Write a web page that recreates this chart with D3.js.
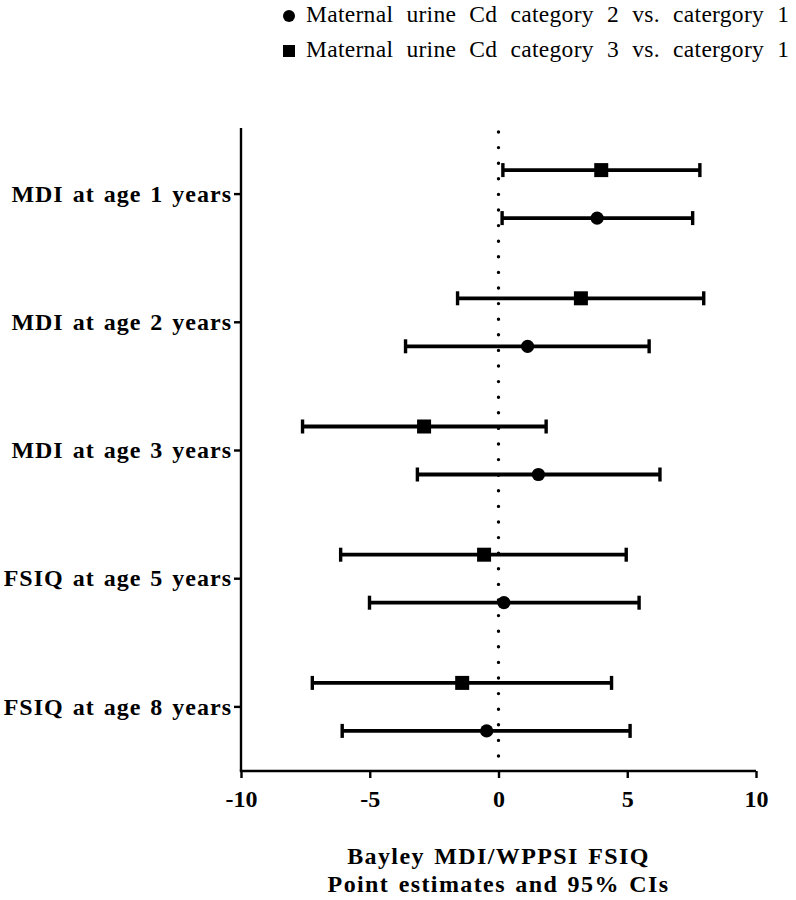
<!DOCTYPE html>
<html><head><meta charset="utf-8">
<script src="https://cdn.jsdelivr.net/npm/d3@7"></script>
<style>body{margin:0;background:#fff}svg{display:block}</style>
</head><body>
<script>
const categories = ["MDI at age 1 years","MDI at age 2 years","MDI at age 3 years","FSIQ at age 5 years","FSIQ at age 8 years"];
const seriesNames = ["Maternal urine Cd category 2 vs. catergory 1","Maternal urine Cd category 3 vs. catergory 1"];
// category 2 vs 1 (circle)
const cat2Est = [3.83, 1.13, 1.55, 0.21, -0.46];
const cat2Low = [0.14, -3.61, -3.15, -5.01, -6.07];
const cat2High = [7.54, 5.85, 6.27, 5.46, 5.11];
// category 3 vs 1 (square)
const cat3Est = [3.99, 3.20, -2.89, -0.56, -1.41];
const cat3Low = [0.17, -1.59, -7.61, -6.13, -7.23];
const cat3High = [7.82, 7.97, 1.85, 4.96, 4.39];
const xTicks = [-10, -5, 0, 5, 10];
const axisTitle = ["Bayley MDI/WPPSI FSIQ", "Point estimates and 95% CIs"];

(function () {
const W = 796, H = 900;
const svg = d3.select("body").append("svg").attr("width", W).attr("height", H);
const font = "'Liberation Serif','Times New Roman',serif";
const pL = 241, pR = 756, pT = 130, pB = 771;
const x = d3.scaleLinear().domain([-10, 10]).range([pL, pR]);
const y = d3.scaleBand().domain(categories).range([pT, pB]);
const off = 24;

// zero dotted line
svg.append("line").attr("x1", x(0)).attr("x2", x(0)).attr("y1", pT + 2).attr("y2", pB - 10)
  .attr("stroke", "#000").attr("stroke-width", 3.4).attr("stroke-linecap", "round")
  .attr("stroke-dasharray", "0 15.6");

// axes
const xAxis = svg.append("g").attr("transform", `translate(0,${pB})`)
  .call(d3.axisBottom(x).tickValues(xTicks).tickFormat(d => String(d)).tickSize(7).tickPadding(12).tickSizeOuter(0));
const yAxis = svg.append("g").attr("transform", `translate(${pL},0)`)
  .call(d3.axisLeft(y).tickSize(7).tickPadding(3).tickSizeOuter(0));
[xAxis, yAxis].forEach(g => {
  g.select(".domain").attr("stroke", "#000").attr("stroke-width", 2.4);
  g.selectAll(".tick line").attr("stroke", "#000").attr("stroke-width", 2.4);
  g.selectAll("text").attr("fill", "#000").attr("font-family", font).attr("font-weight", "bold").attr("font-size", 24);
});
yAxis.selectAll("text").attr("letter-spacing", 1).attr("word-spacing", 2).attr("dx", 1);
xAxis.select(".domain").attr("d", `M${pL - 1.2},0H${pR}`);
yAxis.select(".domain").attr("d", `M0,${pT - 2}V${pB}`);

function drawSeries(est, lo, hi, dy, shape) {
  const g = svg.append("g");
  categories.forEach((c, i) => {
    const cy = y(c) + y.bandwidth() / 2 + dy;
    g.append("line").attr("x1", x(lo[i])).attr("x2", x(hi[i])).attr("y1", cy).attr("y2", cy)
      .attr("stroke", "#000").attr("stroke-width", 3.8);
    [lo[i], hi[i]].forEach(v => g.append("line").attr("x1", x(v)).attr("x2", x(v))
      .attr("y1", cy - 7).attr("y2", cy + 7).attr("stroke", "#000").attr("stroke-width", 3.4));
    if (shape === "circle") g.append("circle").attr("cx", x(est[i])).attr("cy", cy).attr("r", 6.6).attr("fill", "#000");
    else g.append("rect").attr("x", x(est[i]) - 7).attr("y", cy - 7).attr("width", 14).attr("height", 14).attr("fill", "#000");
  });
}
drawSeries(cat3Est, cat3Low, cat3High, -off, "square");
drawSeries(cat2Est, cat2Low, cat2High, off, "circle");

// legend
const leg = svg.append("g");
leg.append("circle").attr("cx", 289).attr("cy", 16).attr("r", 6).attr("fill", "#000");
leg.append("rect").attr("x", 283).attr("y", 45).attr("width", 12).attr("height", 12).attr("fill", "#000");
leg.append("text").attr("x", 306).attr("y", 22).text(seriesNames[0]);
leg.append("text").attr("x", 306).attr("y", 57).text(seriesNames[1]);
leg.selectAll("text").attr("font-family", font).attr("font-size", 23.5).attr("fill", "#000")
  .attr("letter-spacing", 0.3).attr("word-spacing", 7);

// axis title
const t = svg.append("text").attr("text-anchor", "middle")
  .attr("font-family", font).attr("font-weight", "bold").attr("font-size", 24).attr("fill", "#000")
  .attr("letter-spacing", 1.4).attr("word-spacing", 2);
t.append("tspan").attr("x", x(0)).attr("y", 864).text(axisTitle[0]);
t.append("tspan").attr("x", x(0)).attr("y", 892).text(axisTitle[1]);
})();
</script>
</body></html>
